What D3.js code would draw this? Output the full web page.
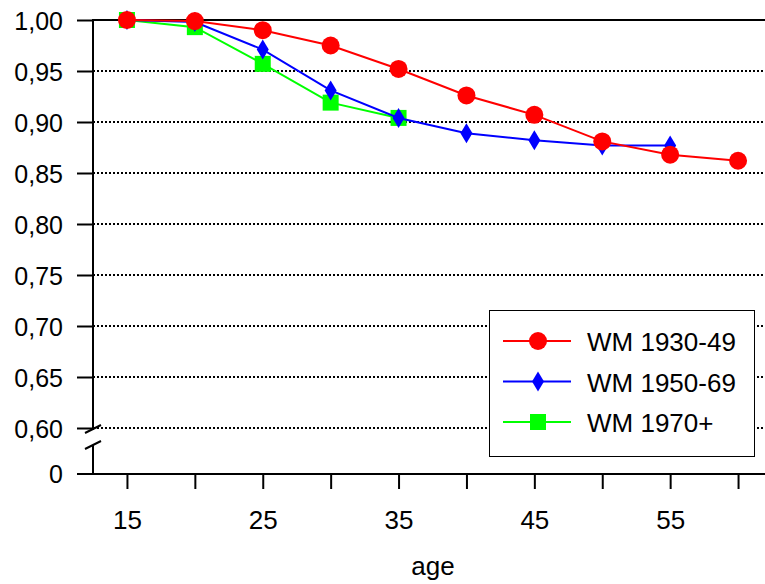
<!DOCTYPE html>
<html><head><meta charset="utf-8">
<script src="https://cdn.jsdelivr.net/npm/d3@7"></script>
<style>body{margin:0;background:#fff}svg{display:block}text{font-family:"Liberation Sans",Arial,sans-serif}</style>
</head><body>
<svg id="c" width="765" height="584"></svg>
<script>
const ages = [15,20,25,30,35,40,45,50,55,60];
const wm1930 = [1.000,0.999,0.990,0.975,0.952,0.926,0.907,0.881,0.868,0.862];
const wm1950 = [1.000,0.998,0.971,0.931,0.904,0.889,0.882,0.877,0.877];
const wm1970 = [1.000,0.993,0.957,0.919,0.904];
const seriesNames = ["WM 1930-49","WM 1950-69","WM 1970+"];
const yTicks = [1.00,0.95,0.90,0.85,0.80,0.75,0.70,0.65,0.60];
const xTicks = [15,20,25,30,35,40,45,50,55,60];
const xLabels = [15,25,35,45,55];

const svg = d3.select("#c");
const x = d3.scaleLinear().domain([12.5,62.5]).range([93,772]);
const y = d3.scaleLinear().domain([0.6,1.0]).range([428,20]);
const yZero = 474;
const fmt = d => d3.format(".2f")(d).replace(".",",");
const FONT = "Liberation Sans, Arial, sans-serif";

// gridlines
svg.append("g").selectAll("line").data(yTicks.filter(d=>d<1)).join("line")
  .attr("x1",93).attr("x2",765).attr("y1",d=>y(d)).attr("y2",d=>y(d))
  .attr("stroke","#000").attr("stroke-width",2).attr("stroke-dasharray","2,2");
// top solid line
svg.append("line").attr("x1",93).attr("x2",765).attr("y1",y(1)).attr("y2",y(1))
  .attr("stroke","#000").attr("stroke-width",2);

// y axis
const yAxis = d3.axisLeft(y).tickValues(yTicks).tickFormat(fmt).tickSize(16).tickPadding(14);
const gy = svg.append("g").attr("transform","translate(93,0)").call(yAxis);
gy.select(".domain").remove();
gy.selectAll(".tick line").attr("stroke","#000").attr("stroke-width",2);
gy.selectAll(".tick text").attr("font-size",25).attr("fill","#000").attr("font-family",FONT).attr("dy","0.36em");
// y axis line with break
svg.append("line").attr("x1",93).attr("x2",93).attr("y1",y(1)-1).attr("y2",y(0.6)+2).attr("stroke","#000").attr("stroke-width",2);
svg.append("line").attr("x1",93).attr("x2",93).attr("y1",y(0.6)+17).attr("y2",yZero).attr("stroke","#000").attr("stroke-width",2);
// break slashes
[y(0.6)+1, y(0.6)+17].forEach(yy=>{
  svg.append("line").attr("x1",85).attr("x2",101).attr("y1",yy+4).attr("y2",yy-4).attr("stroke","#000").attr("stroke-width",2);
});
// zero tick
svg.append("line").attr("x1",77).attr("x2",93).attr("y1",yZero).attr("y2",yZero).attr("stroke","#000").attr("stroke-width",2);
svg.append("text").attr("x",63).attr("y",yZero).attr("dy","0.36em").attr("text-anchor","end").attr("font-size",25).text("0");

// x axis
const xAxis = d3.axisBottom(x).tickValues(xTicks).tickSize(15).tickPadding(22)
  .tickFormat(d => xLabels.includes(d) ? d : "");
const gx = svg.append("g").attr("transform",`translate(0,${yZero})`).call(xAxis);
gx.select(".domain").remove();
gx.selectAll(".tick line").attr("stroke","#000").attr("stroke-width",2);
gx.selectAll(".tick text").attr("font-size",26).attr("fill","#000").attr("font-family",FONT);
svg.append("line").attr("x1",77).attr("x2",765).attr("y1",yZero).attr("y2",yZero).attr("stroke","#000").attr("stroke-width",2);
svg.append("text").attr("x",433).attr("y",575).attr("text-anchor","middle").attr("font-size",26).text("age");

// series
const series = [
  {name:seriesNames[2], vals:wm1970, color:"#00ff00", sym:d3.symbolSquare, size:256},
  {name:seriesNames[1], vals:wm1950, color:"#0000ff", sym:"diamond", size:0},
  {name:seriesNames[0], vals:wm1930, color:"#ff0000", sym:d3.symbolCircle, size:Math.PI*81}
];
const diamondPath = "M0,-10L6,0L0,10L-6,0Z";
const line = d3.line().x(d=>x(d[0])).y(d=>y(d[1]));
function marker(g, s, cx, cy){
  if(s.sym==="diamond") g.append("path").attr("d",diamondPath).attr("transform",`translate(${cx},${cy})`).attr("fill",s.color);
  else g.append("path").attr("d",d3.symbol(s.sym,s.size)()).attr("transform",`translate(${cx},${cy})`).attr("fill",s.color);
}
series.forEach(s=>{
  const pts = s.vals.map((v,i)=>[ages[i],v]);
  const g = svg.append("g");
  g.append("path").attr("d",line(pts)).attr("fill","none").attr("stroke",s.color).attr("stroke-width",2);
  pts.forEach(p=>marker(g,s,x(p[0]),y(p[1])));
});

// legend
const lg = svg.append("g");
lg.append("rect").attr("x",489.5).attr("y",310.5).attr("width",265).attr("height",146).attr("fill","#fff").attr("stroke","#000").attr("stroke-width",1);
[series[2],series[1],series[0]].forEach((s,i)=>{
  const yy = 341 + i*40.5;
  lg.append("line").attr("x1",503).attr("x2",571).attr("y1",yy).attr("y2",yy).attr("stroke",s.color).attr("stroke-width",2);
  marker(lg,s,538,yy);
  lg.append("text").attr("x",587).attr("y",yy+10).attr("font-size",26).text(s.name);
});
</script>
</body></html>
